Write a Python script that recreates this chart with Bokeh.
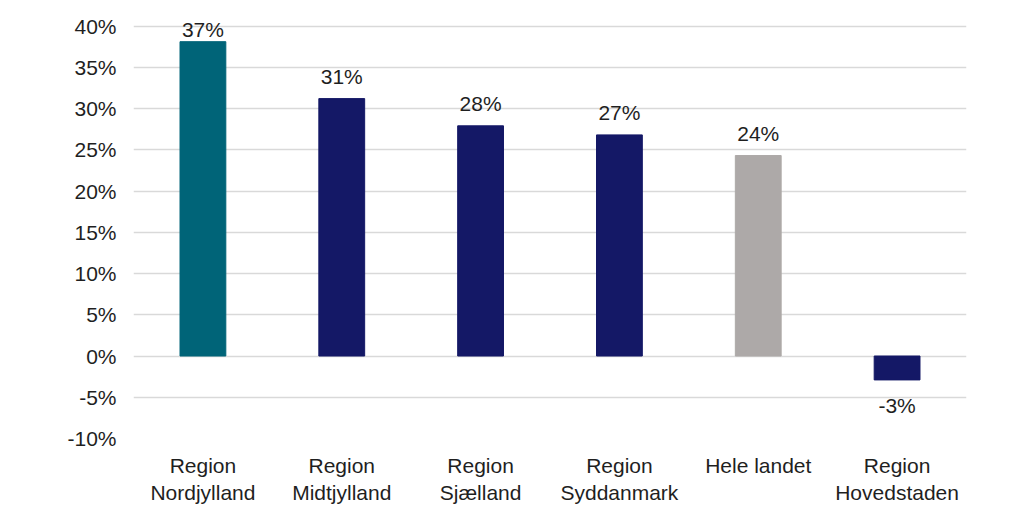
from bokeh.plotting import figure
from bokeh.models import ColumnDataSource, FixedTicker, PrintfTickFormatter, Range1d
from bokeh.core.properties import value
from bokeh.embed import file_html
from bokeh.resources import INLINE

categories = ["Region\nNordjylland", "Region\nMidtjylland", "Region\nSjælland",
              "Region\nSyddanmark", "Hele landet", "Region\nHovedstaden"]
values = [38.1, 31.2, 27.9, 26.8, 24.3, -2.9]
labels = ["37%", "31%", "28%", "27%", "24%", "-3%"]
colors = ["#006478", "#141866", "#141866", "#141866", "#ADA9A8", "#141866"]
y_ticks = [-10, -5, 0, 5, 10, 15, 20, 25, 30, 35, 40]

FONT = "Liberation Sans"
TXT = "#1f1f1f"

# label offsets (px): labels sit ~11px above bar ends, the tallest one is kept inside the chart
label_offsets = [-1, -11, -11, -11, -11, 14]

src = ColumnDataSource(dict(
    x=categories, top=values, label=labels, color=colors,
    base=["bottom" if v >= 0 else "top" for v in values],
    yoff=label_offsets,
))

p = figure(x_range=categories, y_range=Range1d(-10, 42), width=1007, height=516,
           output_backend="svg", toolbar_location=None,
           min_border_left=133, min_border_right=41, min_border_top=9, min_border_bottom=78)
p.outline_line_color = None
p.background_fill_color = "white"
p.border_fill_color = "white"

p.vbar(x="x", top="top", bottom=0, width=0.33, color="color", source=src)
p.text(x="x", y="top", text="label", source=src, text_align="center",
       text_baseline="base", y_offset="yoff",
       text_font=value(FONT), text_font_size="21px", text_color=TXT)

p.yaxis.ticker = FixedTicker(ticks=y_ticks)
p.yaxis.formatter = PrintfTickFormatter(format="%d%%")
for ax in (p.xaxis[0], p.yaxis[0]):
    ax.axis_line_color = None
    ax.major_tick_line_color = None
    ax.minor_tick_line_color = None
    ax.major_label_text_font = FONT
    ax.major_label_text_font_size = "21px"
    ax.major_label_text_color = TXT
p.yaxis.major_label_standoff = 11
p.xaxis.major_label_standoff = 9

p.xgrid.grid_line_color = None
p.ygrid.grid_line_color = "#d9d9d9"
p.ygrid.grid_line_width = 1.5

open("out.html", "w").write(file_html(p, INLINE))
